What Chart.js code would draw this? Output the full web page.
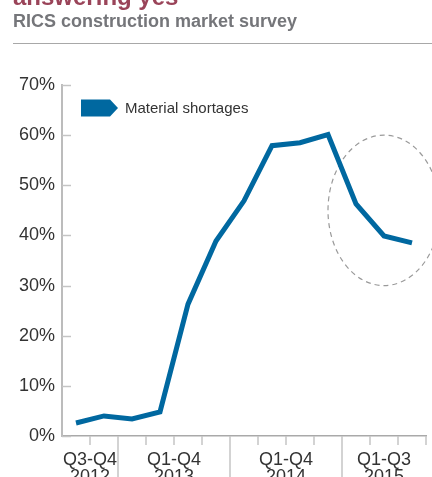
<!DOCTYPE html>
<html>
<head>
<meta charset="utf-8">
<script src="https://cdn.jsdelivr.net/npm/chart.js@4"></script>
<style>
  html, body { margin:0; padding:0; background:#fff; }
  #wrap { position:relative; width:432px; height:477px; overflow:hidden; font-family:"Liberation Sans", Arial, sans-serif; }
  #title { position:absolute; left:13px; top:-17px; font-size:24px; line-height:27px; font-weight:bold; color:#9a4459; white-space:nowrap; }
  #subtitle { position:absolute; left:13px; top:11px; font-size:18px; line-height:20px; font-weight:bold; color:#75767a; white-space:nowrap; }
  #rule { position:absolute; left:13px; top:43px; width:419px; height:0; border-top:1.5px solid #a8a8a8; }
  canvas { position:absolute; left:0; top:0; }
</style>
</head>
<body>
<div id="wrap">
  <canvas id="c" width="432" height="477"></canvas>
  <div id="title">answering yes</div>
  <div id="subtitle">RICS construction market survey</div>
  <div id="rule"></div>
</div>
<script>
const categories = ['Q3 2012','Q4 2012','Q1 2013','Q2 2013','Q3 2013','Q4 2013','Q1 2014','Q2 2014','Q3 2014','Q4 2014','Q1 2015','Q2 2015','Q3 2015'];
const shortages = [2.6, 4.0, 3.4, 4.8, 26.3, 38.9, 46.9, 57.9, 58.5, 60.1, 46.3, 39.9, 38.5];
const seriesName = 'Material shortages';
const yTickValues = [0, 10, 20, 30, 40, 50, 60, 70];
const groupLabels = [['Q3-Q4','2012'], ['Q1-Q4','2013'], ['Q1-Q4','2014'], ['Q1-Q3','2015']];
const groupFirst = [0, 2, 6, 10];
const groupLast = [1, 5, 9, 12];
const highlightFirst = 10, highlightLast = 12;   // circled period
const highlightLow = 30, highlightHigh = 60;

const FONT = '"Liberation Sans", Arial, sans-serif';
const LINE_COLOR = '#0068a0';

const axisDecor = {
  id: 'axisDecor',
  beforeDatasetsDraw(chart) {
    const {ctx, scales:{x, y}} = chart;
    const x0 = x.getPixelForValue(highlightFirst - 1);
    const x1 = x.getPixelForValue(highlightLast + 1);
    const yTop = y.getPixelForValue(highlightHigh);
    const yBot = y.getPixelForValue(highlightLow);
    ctx.save();
    ctx.strokeStyle = '#9a9a9a';
    ctx.lineWidth = 1.2;
    ctx.setLineDash([5, 4]);
    ctx.beginPath();
    ctx.ellipse((x0 + x1) / 2, (yTop + yBot) / 2, (x1 - x0) / 2, (yBot - yTop) / 2, 0, 0, Math.PI * 2);
    ctx.stroke();
    ctx.restore();
  },
  afterDraw(chart) {
    const {ctx, chartArea, scales:{x, y}} = chart;
    ctx.save();
    ctx.strokeStyle = '#c4c4c4';
    ctx.lineWidth = 1.5;
    yTickValues.forEach(v => {
      const py = Math.round(y.getPixelForValue(v)) + 0.5;
      ctx.beginPath();
      ctx.moveTo(chartArea.left, py);
      ctx.lineTo(chartArea.left + 9, py);
      ctx.stroke();
    });
    const n = categories.length;
    const starts = new Set(groupFirst);
    for (let i = 1; i <= n; i++) {
      let bx;
      if (i < n) bx = (x.getPixelForValue(i - 1) + x.getPixelForValue(i)) / 2;
      else bx = chartArea.right;
      const isYear = starts.has(i);
      ctx.beginPath();
      ctx.moveTo(bx, chartArea.bottom);
      ctx.lineTo(bx, isYear ? chart.height : chartArea.bottom + 9);
      ctx.stroke();
    }
    ctx.fillStyle = '#333';
    ctx.font = '18px ' + FONT;
    ctx.textAlign = 'center';
    ctx.textBaseline = 'alphabetic';
    groupLabels.forEach((lab, g) => {
      const a = x.getPixelForValue(groupFirst[g]);
      const b = x.getPixelForValue(groupLast[g]);
      const cx = (a + b) / 2;
      ctx.fillText(lab[0], cx, chartArea.bottom + 29);
      ctx.fillText(lab[1], cx, chartArea.bottom + 46);
    });
    const lx = chartArea.left + 19, ly = chartArea.top + 23;
    ctx.fillStyle = LINE_COLOR;
    ctx.beginPath();
    ctx.moveTo(lx, ly - 8.5);
    ctx.lineTo(lx + 29, ly - 8.5);
    ctx.lineTo(lx + 37, ly);
    ctx.lineTo(lx + 29, ly + 8.5);
    ctx.lineTo(lx, ly + 8.5);
    ctx.closePath();
    ctx.fill();
    ctx.fillStyle = '#333';
    ctx.font = '15px ' + FONT;
    ctx.textAlign = 'left';
    ctx.textBaseline = 'middle';
    ctx.fillText(chart.data.datasets[0].label, lx + 44, ly + 1);
    ctx.restore();
  }
};

new Chart(document.getElementById('c'), {
  type: 'line',
  data: {
    labels: categories,
    datasets: [{
      label: seriesName,
      data: shortages,
      borderColor: LINE_COLOR,
      backgroundColor: LINE_COLOR,
      borderWidth: 5,
      borderJoinStyle: 'miter',
      borderCapStyle: 'butt',
      pointRadius: 0,
      tension: 0,
      fill: false,
      clip: false
    }]
  },
  options: {
    responsive: false,
    animation: false,
    events: [],
    layout: { padding: { top: 85, right: 6, left: 0, bottom: 0 } },
    plugins: { legend: { display: false }, tooltip: { enabled: false }, title: { display: false } },
    scales: {
      x: {
        type: 'category',
        offset: true,
        grid: { display: false, drawTicks: false },
        ticks: { display: false },
        border: { display: true, color: '#a9a9a9', width: 1.5 },
        afterFit(s) { s.height = 41; }
      },
      y: {
        min: 0, max: 70,
        afterBuildTicks(s) { s.ticks = yTickValues.map(v => ({ value: v })); },
        grid: { display: false, drawTicks: false },
        border: { display: true, color: '#bcbcbc', width: 2 },
        ticks: {
          padding: 7,
          color: '#333',
          font: { family: FONT, size: 18 },
          callback: v => v + '%'
        },
        afterFit(s) { s.width = 62; }
      }
    }
  },
  plugins: [axisDecor]
});
</script>
</body>
</html>
